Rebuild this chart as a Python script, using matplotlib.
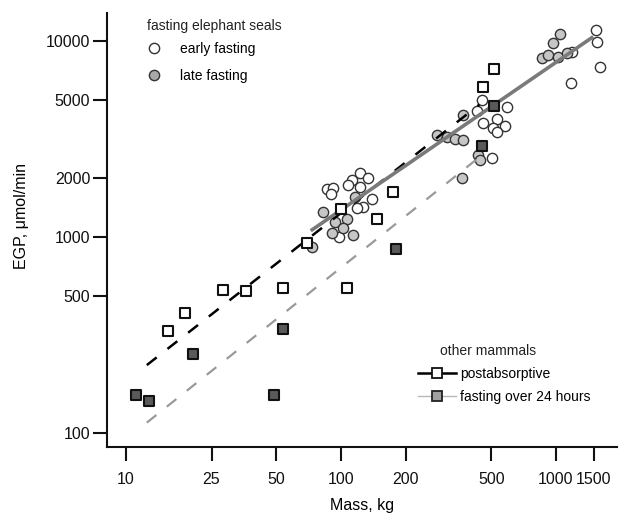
import matplotlib
matplotlib.use("Agg")
import matplotlib.pyplot as plt
from matplotlib.lines import Line2D

plt.rcParams['font.family'] = ['Liberation Sans', 'DejaVu Sans']

# ---- data ----
early_mass = [85.8, 92.1, 89.9, 122.6, 112.1, 108.2, 134.0, 122.6, 138.9, 127.0, 118.3, 97.9,
              451, 429, 590, 459, 532, 579, 511, 530, 502,
              1535, 1556, 1602, 1178, 1183]
early_egp = [1751, 1784, 1651, 2113, 1953, 1842, 1993, 1805, 1563, 1427, 1401, 1000,
             5000, 4395, 4622, 3804, 4000, 3684, 3586, 3445, 2521,
             11380, 9918, 7393, 6085, 8818]

late_mass = [116.2, 82.8, 106.3, 93.8, 102.5, 90.5, 114.1, 73.1,
             278.7, 310, 339, 370.6, 370.6, 435, 443, 364,
             1044, 971, 858, 921, 1025, 1122]
late_egp = [1605, 1342, 1236, 1193, 1108, 1048, 1024, 892,
            3314, 3249, 3181, 3125, 4192, 2620, 2471, 2000,
            10856, 9768, 8191, 8485, 8317, 8655]

post_mass = [15.6, 18.9, 28.4, 36.0, 53.9, 69.3, 100, 107, 146.6, 175, 457, 515]
post_egp = [331, 411, 538, 532, 551, 929, 1395, 551, 1236, 1703, 5847, 7170]

fast_mass = [11.1, 12.8, 20.6, 48.9, 53.9, 179.7, 452.7, 516.6]
fast_egp = [155.7, 145.6, 254, 156, 341, 871, 2923, 4659]

# fitted lines (endpoints)
seal_fit_mass = [72.3, 1491]
seal_fit_egp = [1076, 10520]
post_fit_mass = [12.5, 440]
post_fit_egp = [222, 4735]
fast_fit_mass = [12.5, 443]
fast_fit_egp = [112.9, 2569]

x_ticks = [10, 25, 50, 100, 200, 500, 1000, 1500]
y_ticks = [100, 500, 1000, 2000, 5000, 10000]

# ---- figure ----
fig = plt.figure(figsize=(6.21, 5.17), dpi=100)
ax = fig.add_axes([107/621, 1-447/517, 510/621, 434/517])
ax.set_xscale('log')
ax.set_yscale('log')
ax.set_xlim(8.16, 1923)
ax.set_ylim(84.8, 13900)

edge = '#333333'
ax.scatter(early_mass, early_egp, s=7.4**2, facecolor='white', edgecolor=edge, linewidth=1.0, zorder=2)
ax.scatter(late_mass, late_egp, s=7.4**2, facecolor='#c6c6c6', edgecolor=edge, linewidth=1.0, zorder=2)

ax.plot(post_fit_mass, post_fit_egp, color='black', lw=1.8, dashes=(5, 5.5), zorder=3)
ax.plot(seal_fit_mass, seal_fit_egp, color='#7a7a7a', lw=2.6, solid_capstyle='butt', zorder=3)
ax.plot(fast_fit_mass, fast_fit_egp, color='#9a9a9a', lw=1.6, dashes=(5.5, 6), zorder=3)

ax.scatter(post_mass, post_egp, marker='s', s=7.8**2, facecolor='white', edgecolor='#111111', linewidth=1.5, zorder=4)
ax.scatter(fast_mass, fast_egp, marker='s', s=7.8**2, facecolor='#5a5a5a', edgecolor='#111111', linewidth=1.5, zorder=4)

# axes styling
for s in ['top', 'right']:
    ax.spines[s].set_visible(False)
for s in ['left', 'bottom']:
    ax.spines[s].set_linewidth(1.5)
    ax.spines[s].set_color('#111111')
ax.minorticks_off()
ax.set_xticks(x_ticks)
ax.set_xticklabels([str(v) for v in x_ticks])
ax.set_yticks(y_ticks)
ax.set_yticklabels([str(v) for v in y_ticks])
ax.tick_params(axis='x', length=10, width=1.5, pad=8, labelsize=11.5, colors='#111111')
ax.tick_params(axis='y', length=10, width=1.5, pad=2, labelsize=11.5, colors='#111111')

ax.set_xlabel('Mass, kg', fontsize=11.5)
ax.xaxis.set_label_coords(0.5, -0.118)
ax.set_ylabel('EGP, μmol/min', fontsize=11.5)
ax.yaxis.set_label_coords(-0.152, 0.532)

# legend 1
ax.text(40/510, (447-26)/434, 'fasting elephant seals', transform=ax.transAxes,
        ha='left', va='center', fontsize=10, color='#222222')
h1 = [Line2D([], [], ls='none', marker='o', ms=7.4, mfc='white', mec=edge, mew=1.0),
      Line2D([], [], ls='none', marker='o', ms=7.4, mfc='#a8a8a8', mec=edge, mew=1.0)]
leg1 = ax.legend(h1, ['early fasting', 'late fasting'], loc='upper left',
                 bbox_to_anchor=(40/510, (447-42)/434), frameon=False, fontsize=10,
                 borderpad=0, borderaxespad=0, handlelength=1.0, handletextpad=1.37,
                 labelspacing=0.93)
ax.add_artist(leg1)

# legend 2
ax.text((488-107)/510, (447-351)/434, 'other mammals', transform=ax.transAxes,
        ha='center', va='center', fontsize=10, color='#222222')
h2 = [Line2D([], [], color='black', lw=1.8, marker='s', ms=6.5, mfc='white', mec='#111111', mew=1.3),
      Line2D([], [], color='#b8b8b8', lw=1.0, marker='s', ms=6.5, mfc='#a0a0a0', mec='#222222', mew=1.3)]
ax.legend(h2, ['postabsorptive', 'fasting over 24 hours'], loc='upper left',
          bbox_to_anchor=((418-107)/510, (447-367)/434), frameon=False, fontsize=10,
          borderpad=0, borderaxespad=0, handlelength=2.73, handletextpad=0.3,
          labelspacing=0.65)

fig.savefig('out.png', dpi=100)
